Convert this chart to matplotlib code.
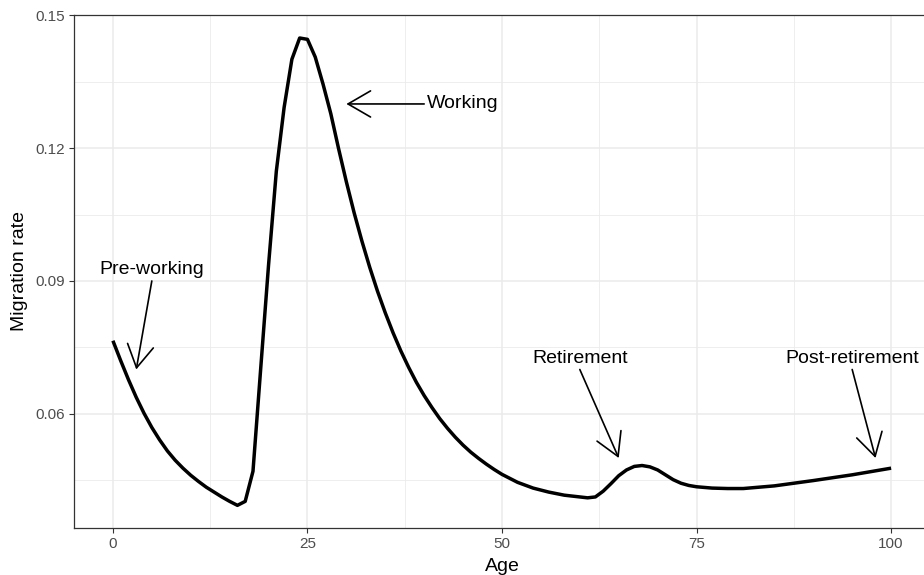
import matplotlib
matplotlib.use("Agg")
import matplotlib.pyplot as plt

# ---- data ----
ages = [0, 1, 2, 3, 4, 5, 6, 7, 8, 9, 10, 11, 12, 13, 14, 15, 16, 17, 18, 19,
        20, 21, 22, 23, 24, 25, 26, 27, 28, 29, 30, 31, 32, 33, 34, 35, 36, 37,
        38, 39, 40, 41, 42, 43, 44, 45, 46, 47, 48, 49, 50, 52, 54, 56, 58, 60,
        61, 62, 63, 64, 65, 66, 67, 68, 69, 70, 71, 72, 73, 74, 75, 77, 79, 81,
        85, 90, 95, 100]
rates = [0.0765, 0.0720, 0.0677, 0.0637, 0.0601, 0.0569, 0.0541, 0.0516, 0.0495,
         0.0477, 0.0461, 0.0447, 0.0434, 0.0423, 0.0412, 0.0402, 0.0393, 0.0402,
         0.0470, 0.0704, 0.0936, 0.1148, 0.1292, 0.1401, 0.1449, 0.1446, 0.1406,
         0.1345, 0.1278, 0.1199, 0.1124, 0.1054, 0.0990, 0.0931, 0.0877, 0.0828,
         0.0783, 0.0742, 0.0705, 0.0671, 0.0641, 0.0614, 0.0589, 0.0567, 0.0547,
         0.0529, 0.0513, 0.0499, 0.0486, 0.0474, 0.0463, 0.0445, 0.0432, 0.0423,
         0.0416, 0.0412, 0.0410, 0.0412, 0.0425, 0.0442, 0.0460, 0.0473, 0.0481,
         0.0483, 0.0480, 0.0473, 0.0462, 0.0451, 0.0443, 0.0438, 0.0435, 0.0432,
         0.0431, 0.0431, 0.0437, 0.0449, 0.0462, 0.0477]

x_ticks = [0, 25, 50, 75, 100]
y_ticks = [0.06, 0.09, 0.12, 0.15]
y_tick_labels = ["0.06", "0.09", "0.12", "0.15"]

labels = ["Pre-working", "Working", "Retirement", "Post-retirement"]
label_x = [5, 40.4, 60, 95]
label_y = [0.0927, 0.130, 0.0725, 0.0725]
label_ha = ["center", "left", "center", "center"]
arrow_tail_x = [5, 40, 60, 95]
arrow_tail_y = [0.09, 0.13, 0.07, 0.07]
arrow_tip_x = [3, 30, 65, 98]
arrow_tip_y = [0.07, 0.13, 0.05, 0.05]

# ---- figure ----
plt.rcParams['font.family'] = ['Liberation Sans', 'DejaVu Sans']
DPI = 100
fig = plt.figure(figsize=(9.24, 5.75), dpi=DPI)
ax = fig.add_axes([74 / 924, (575 - 527.7) / 575, (930 - 74) / 924, (527.7 - 15) / 575])

ax.set_xlim(-5, 105)
ax.set_ylim(0.03425, 0.1501)

grid_col = "#EBEBEB"
for v in [12.5, 37.5, 62.5, 87.5]:
    ax.axvline(v, color=grid_col, lw=0.6, zorder=0)
for v in [0.045, 0.075, 0.105, 0.135]:
    ax.axhline(v, color=grid_col, lw=0.6, zorder=0)
for v in x_ticks:
    ax.axvline(v, color=grid_col, lw=1.1, zorder=0)
for v in y_ticks:
    ax.axhline(v, color=grid_col, lw=1.1, zorder=0)

ax.plot(ages, rates, color="black", lw=2.5, solid_joinstyle="round",
        solid_capstyle="butt", zorder=3)

for i in range(len(labels)):
    ax.annotate("", xy=(arrow_tip_x[i], arrow_tip_y[i]),
                xytext=(arrow_tail_x[i], arrow_tail_y[i]),
                arrowprops=dict(arrowstyle="->,head_length=1.62,head_width=0.94",
                                mutation_scale=10, shrinkA=0, shrinkB=0,
                                lw=1.2, color="black"), zorder=4)
    ax.text(label_x[i], label_y[i], labels[i], ha=label_ha[i], va="center",
            fontsize=14, color="black", zorder=5)

ax.set_xticks(x_ticks)
ax.set_xticklabels([str(t) for t in x_ticks])
ax.set_yticks(y_ticks)
ax.set_yticklabels(y_tick_labels)
ax.tick_params(axis="both", which="major", length=3.5, width=0.8, color="#333333",
               labelsize=11, labelcolor="#4D4D4D", pad=3)

for s in ax.spines.values():
    s.set_color("#333333")
    s.set_linewidth(0.9)

ax.set_xlabel("Age", fontsize=14, color="black", labelpad=5)
ax.set_ylabel("Migration rate", fontsize=14, color="black", labelpad=5)

fig.savefig("out.png", dpi=DPI)
